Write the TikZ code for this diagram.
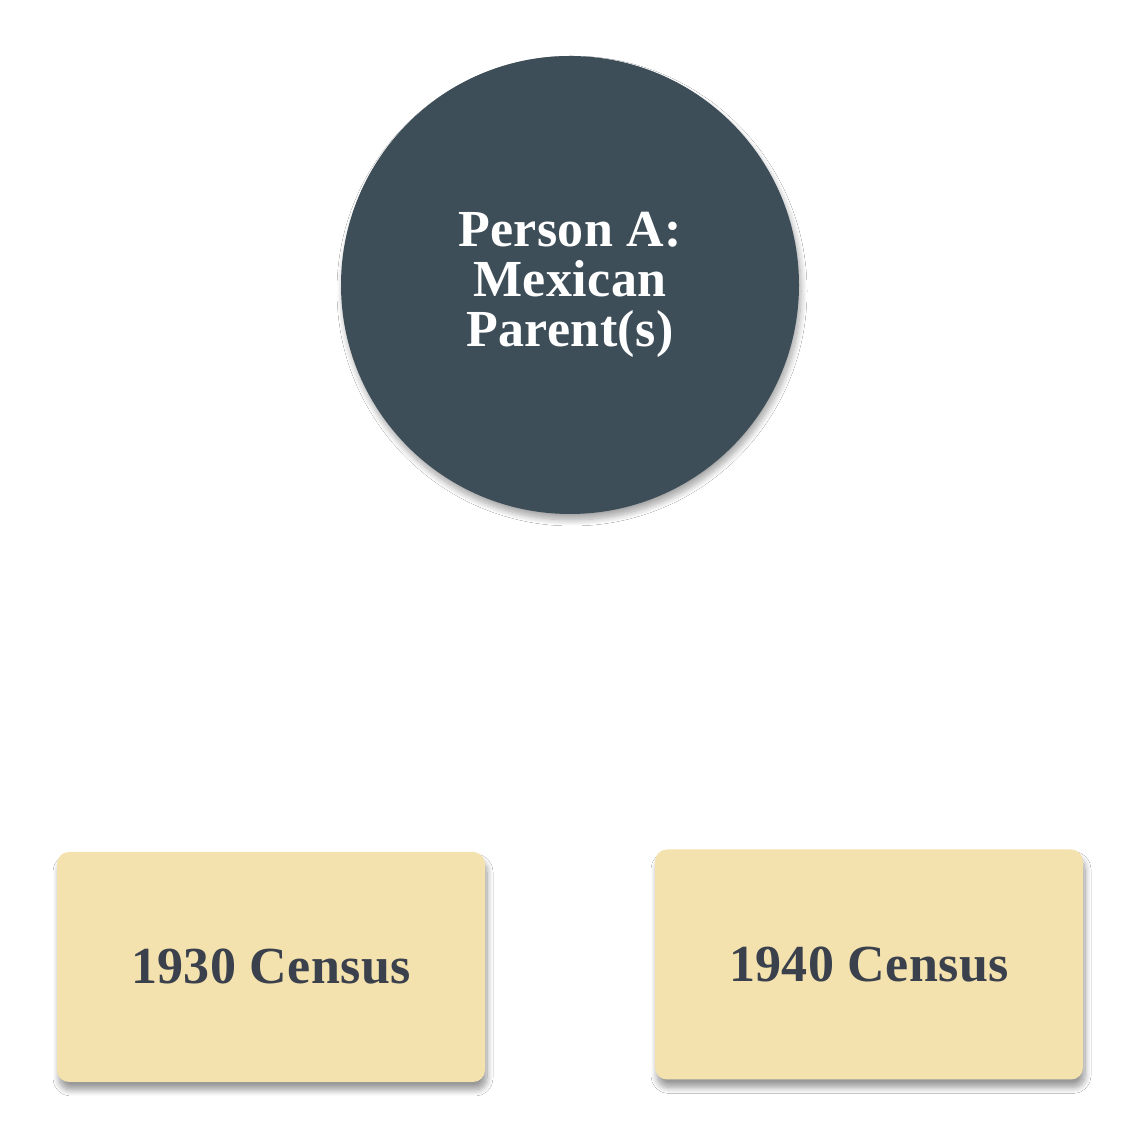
\documentclass[tikz,border=0pt]{standalone}
\usepackage{fontspec}
\setmainfont{Liberation Serif}[LetterSpace=0.8]
\usetikzlibrary{shadows.blur}
\definecolor{circfill}{HTML}{3D4E59}
\definecolor{boxfill}{HTML}{F3E1AE}
\definecolor{boxtext}{HTML}{3A414C}
\tikzset{
  person/.style={circle, fill=circfill, minimum size=458pt, inner sep=0pt,
    text=white, align=center, font=\fontsize{52}{50}\selectfont\bfseries,
    blur shadow={shadow xshift=2pt, shadow yshift=-6pt, shadow blur steps=10, shadow blur radius=6pt, shadow opacity=35}},
  census/.style={rectangle, rounded corners=12pt, fill=boxfill, minimum width=428pt, minimum height=230pt,
    inner sep=0pt, text=boxtext, font=\fontsize{52}{50}\selectfont\bfseries,
    blur shadow={shadow xshift=2pt, shadow yshift=-8pt, shadow blur steps=10, shadow blur radius=6pt, shadow opacity=40}}
}
\begin{document}
\begin{tikzpicture}[x=1pt,y=1pt]
\useasboundingbox[fill=white] (0,0) rectangle (1140,1140);
\node[person] (pa) at (570,855) {Person A:\\Mexican\\Parent(s)};
\node[census] (c30) at (271,173) {1930 Census};
\node[census] (c40) at (869,175.5) {1940 Census};
\end{tikzpicture}
\end{document}
